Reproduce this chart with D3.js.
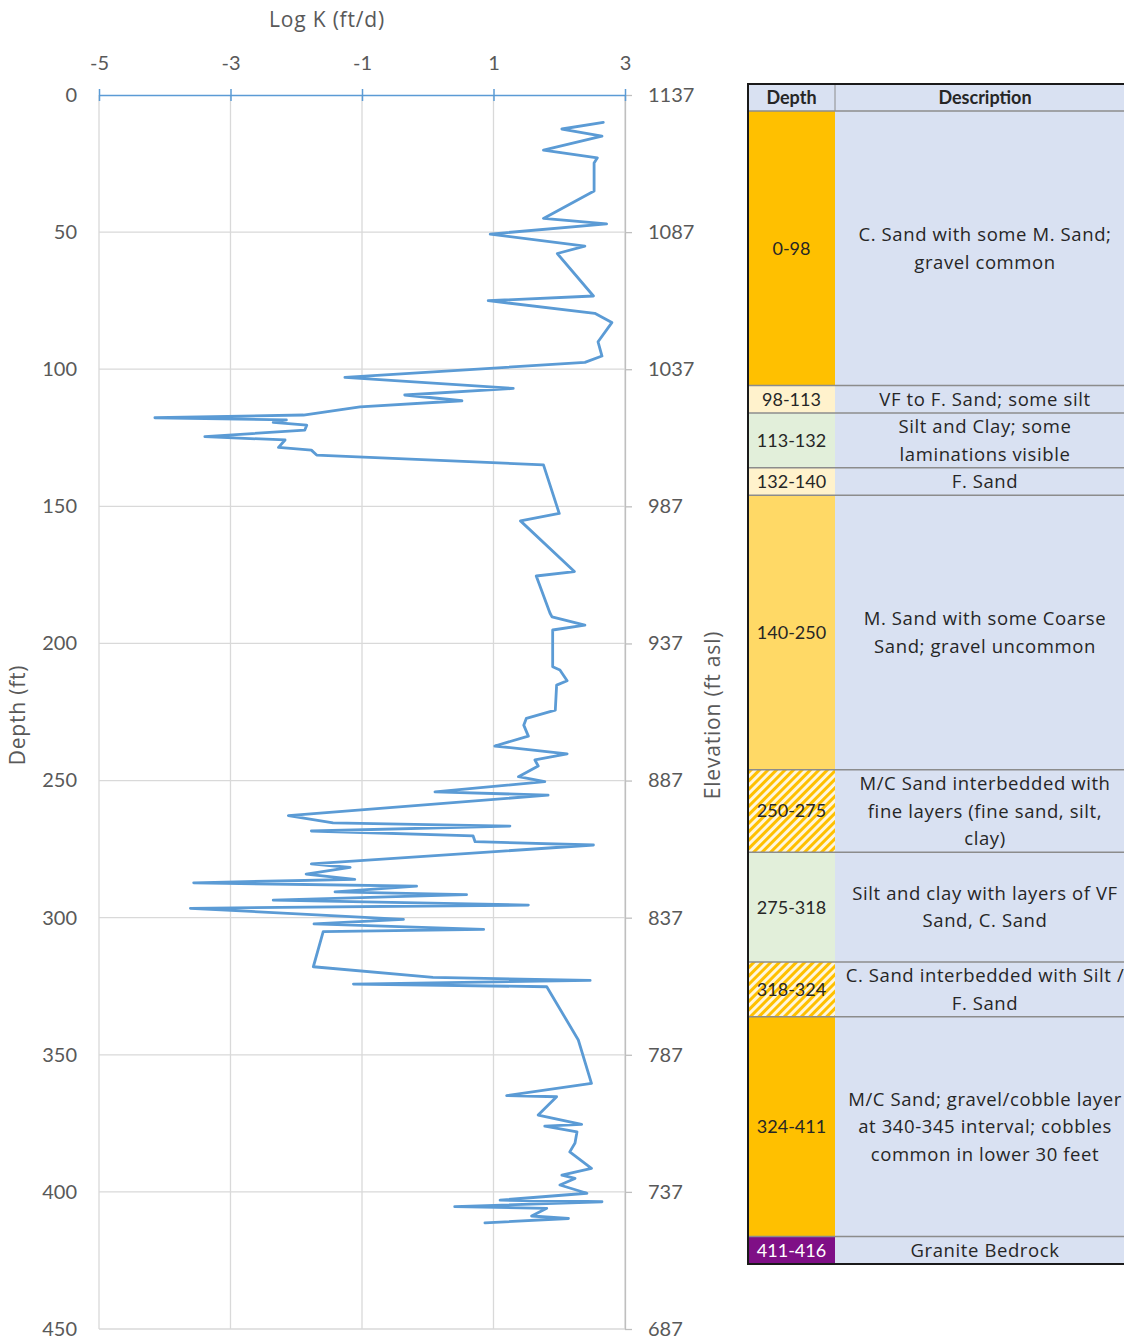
<!DOCTYPE html>
<html>
<head>
<meta charset="utf-8">
<script src="https://cdn.jsdelivr.net/npm/d3@7"></script>
<style>
  body { margin: 0; background: #ffffff; }
  svg { display: block; font-family: Lato, "Open Sans", sans-serif; }
</style>
</head>
<body>
<svg id="chart" width="1124" height="1340"></svg>
<script>
// ---- Hydraulic conductivity profile (log10 K, ft/d) versus depth below ground (ft)
const depthFt = [
  10.0, 12.4, 15.0, 20.1, 22.9, 24.8, 35.0, 45.0, 47.0, 50.7,
  55.1, 57.8, 73.3, 75.0, 79.6, 83.0, 90.0, 95.2, 97.5, 103.0,
  107.0, 109.4, 111.5, 113.7, 116.7, 117.7, 118.5, 119.4, 120.4, 122.2,
  124.6, 125.8, 128.5, 129.5, 131.3, 134.9, 152.6, 155.3, 173.8, 175.4,
  189.0, 190.3, 193.3, 195.1, 208.5, 209.7, 213.6, 215.2, 224.3, 227.3,
  229.8, 233.8, 237.4, 240.3, 242.5, 244.7, 248.6, 250.4, 254.1, 255.3,
  262.8, 265.4, 266.6, 268.4, 270.2, 272.3, 273.5, 280.4, 281.7, 284.1,
  286.0, 287.3, 288.5, 290.6, 291.6, 293.6, 295.4, 296.6, 300.6, 302.3,
  304.3, 305.1, 317.9, 321.8, 322.9, 324.2, 325.2, 344.6, 360.4, 364.9,
  365.3, 372.0, 375.4, 376.0, 378.1, 382.2, 385.4, 391.4, 393.9, 395.1,
  397.5, 400.5, 403.0, 403.6, 405.4, 406.0, 408.8, 409.7, 411.3
];
const logK = [
  2.67, 2.04, 2.65, 1.76, 2.58, 2.53, 2.53, 1.76, 2.72, 0.95,
  2.39, 1.97, 2.52, 0.92, 2.54, 2.80, 2.59, 2.65, 2.39, -1.26,
  1.30, -0.35, 0.52, -1.03, -1.89, -4.15, -2.15, -2.35, -1.84, -1.87,
  -3.39, -2.17, -2.27, -1.77, -1.69, 1.76, 2.00, 1.41, 2.23, 1.65,
  1.86, 1.89, 2.39, 1.90, 1.90, 2.01, 2.12, 1.96, 1.94, 1.50,
  1.46, 1.53, 1.02, 2.12, 1.63, 1.68, 1.38, 1.78, 0.11, 1.83,
  -2.12, -1.44, 1.25, -1.77, 0.69, 0.72, 2.52, -1.77, -1.18, -1.85,
  -1.11, -3.56, -0.17, -1.41, 0.59, -2.35, 1.53, -3.61, -0.37, -1.73,
  0.85, -1.59, -1.74, 0.08, 2.47, -1.13, 1.81, 2.29, 2.49, 1.20,
  1.96, 1.68, 2.34, 1.78, 2.27, 2.24, 2.16, 2.49, 2.04, 2.24,
  2.01, 2.42, 1.10, 2.65, 0.41, 1.81, 1.58, 2.14, 0.87
];

// ---- Axis ticks
const logKTicks = [-5, -3, -1, 1, 3];
const depthTicks = [0, 50, 100, 150, 200, 250, 300, 350, 400, 450];
const groundElevation = 1137;

// ---- Lithologic log
const layerDepths = ["0-98", "98-113", "113-132", "132-140", "140-250",
                     "250-275", "275-318", "318-324", "324-411", "411-416"];
const layerDescriptions = [
  ["C. Sand with some M. Sand;", "gravel common"],
  ["VF to F. Sand; some silt"],
  ["Silt and Clay; some", "laminations visible"],
  ["F. Sand"],
  ["M. Sand with some Coarse", "Sand; gravel uncommon"],
  ["M/C Sand interbedded with", "fine layers (fine sand, silt,", "clay)"],
  ["Silt and clay with layers of VF", "Sand, C. Sand"],
  ["C. Sand interbedded with Silt /", "F. Sand"],
  ["M/C Sand; gravel/cobble layer", "at 340-345 interval; cobbles", "common in lower 30 feet"],
  ["Granite Bedrock"]
];
const layerTypes = ["coarse", "fine", "silt", "fine", "medium",
                    "mixed", "silt", "mixed", "coarse", "bedrock"];
const layerRowCounts = [10, 1, 2, 1, 10, 3, 4, 2, 8, 1];

const svg = d3.select("#chart");
const grey = "#595959";
const titleFont = "'Open Sans', Lato, sans-serif";

const x = d3.scaleLinear().domain([-5, 3]).range([99, 625]);
const y = d3.scaleLinear().domain([0, 450]).range([95, 1329]);
const yElev = d3.scaleLinear()
  .domain([groundElevation, groundElevation - 450]).range([95, 1329]);

// gridlines
const grid = svg.append("g");
grid.selectAll("line.h").data(depthTicks.filter(d => d > 0)).join("line")
  .attr("class", "h")
  .attr("x1", x(-5)).attr("x2", x(3))
  .attr("y1", d => y(d)).attr("y2", d => y(d))
  .attr("stroke", "#d9d9d9").attr("stroke-width", 1.3);
grid.selectAll("line.v").data(logKTicks).join("line")
  .attr("class", "v")
  .attr("x1", d => x(d)).attr("x2", d => x(d))
  .attr("y1", y(0)).attr("y2", y(450))
  .attr("stroke", "#d9d9d9").attr("stroke-width", 1.3);

// left depth axis (labels only)
const leftAxis = svg.append("g")
  .attr("transform", `translate(${x(-5)},0)`)
  .call(d3.axisLeft(y).tickValues(depthTicks).tickSize(0).tickPadding(22));
leftAxis.select(".domain").remove();

// right elevation axis
const rightAxis = svg.append("g")
  .attr("transform", `translate(${x(3)},0)`)
  .call(d3.axisRight(yElev)
    .tickValues(depthTicks.map(d => groundElevation - d))
    .tickSizeInner(7).tickSizeOuter(0).tickPadding(16)
    .tickFormat(d3.format("d")));
rightAxis.select(".domain").attr("stroke", "#bfbfbf").attr("stroke-width", 1.3);
rightAxis.selectAll(".tick line").attr("stroke", "#bfbfbf").attr("stroke-width", 1.3);

// top log K axis
const topAxis = svg.append("g")
  .attr("transform", `translate(0,${y(0)})`)
  .call(d3.axisTop(x).tickValues(logKTicks).tickSizeInner(0).tickSizeOuter(0)
    .tickPadding(25).tickFormat(d => String(d)));
topAxis.select(".domain").attr("stroke", "#5b9bd5").attr("stroke-width", 1.5);
topAxis.selectAll(".tick line")
  .attr("y1", -6).attr("y2", 6)
  .attr("stroke", "#5b9bd5").attr("stroke-width", 1.5);

[leftAxis, rightAxis, topAxis].forEach(g => {
  g.attr("font-family", null).attr("font-size", null);
  g.selectAll("text").attr("fill", grey).style("font-size", "20px")
    .style("font-family", "Lato, 'Open Sans', sans-serif");
});

// axis titles
const titleStyle = sel => sel
  .attr("text-anchor", "middle").attr("fill", grey)
  .style("font-size", "21px").style("font-family", titleFont)
  .style("letter-spacing", "0.8px");
svg.append("text")
  .attr("x", 327).attr("y", 27)
  .call(titleStyle)
  .text("Log K (ft/d)");
svg.append("text")
  .attr("transform", "translate(18,715) rotate(-90)")
  .attr("dy", "0.35em")
  .call(titleStyle)
  .text("Depth (ft)");
svg.append("text")
  .attr("transform", "translate(713,715) rotate(-90)")
  .attr("dy", "0.35em")
  .call(titleStyle)
  .text("Elevation (ft asl)");

// conductivity profile
const profile = depthFt.map((d, i) => ({ depth: d, k: logK[i] }));
svg.append("path")
  .datum(profile)
  .attr("fill", "none")
  .attr("stroke", "#5b9bd5")
  .attr("stroke-width", 2.8)
  .attr("stroke-linejoin", "round")
  .attr("stroke-linecap", "round")
  .attr("d", d3.line().x(p => x(p.k)).y(p => y(p.depth)));

// ---- lithology table
const defs = svg.append("defs");
const hatch = defs.append("pattern")
  .attr("id", "hatch-mixed")
  .attr("patternUnits", "userSpaceOnUse")
  .attr("width", 6).attr("height", 6)
  .attr("patternTransform", "rotate(45)");
hatch.append("rect").attr("width", 6).attr("height", 6).attr("fill", "#fff6dc");
hatch.append("rect").attr("width", 3).attr("height", 6).attr("fill", "#ffc000");

const fillFor = {
  coarse: "#ffc000",
  fine: "#fff2cc",
  silt: "#e2efda",
  medium: "#ffd966",
  mixed: "url(#hatch-mixed)",
  bedrock: "#7f0f86"
};

const tblLeft = 748, tblSplit = 835, tblRight = 1136;
const tblTop = 84, headerH = 27, rowUnit = 27.45;
const descBg = "#d9e1f2";
const ink = "#262626";

const tbl = svg.append("g").style("font-size", "18px");

// header
tbl.append("rect")
  .attr("x", tblLeft).attr("y", tblTop)
  .attr("width", tblRight - tblLeft).attr("height", headerH)
  .attr("fill", descBg);
tbl.append("text").attr("x", (tblLeft + tblSplit) / 2).attr("y", tblTop + headerH / 2)
  .attr("dy", "0.36em").attr("text-anchor", "middle").attr("fill", ink)
  .attr("font-weight", "bold").text("Depth");
tbl.append("text").attr("x", 985).attr("y", tblTop + headerH / 2)
  .attr("dy", "0.36em").attr("text-anchor", "middle").attr("fill", ink)
  .attr("font-weight", "bold").text("Description");

// body rows
let rowTop = tblTop + headerH;
const rows = layerDepths.map((label, i) => {
  const h = layerRowCounts[i] * rowUnit;
  const r = { label, lines: layerDescriptions[i], type: layerTypes[i], top: rowTop, h };
  rowTop += h;
  return r;
});
const tblBottom = rowTop;

const rowG = tbl.selectAll("g.row").data(rows).join("g").attr("class", "row");
rowG.append("rect")
  .attr("x", tblSplit).attr("y", r => r.top)
  .attr("width", tblRight - tblSplit).attr("height", r => r.h)
  .attr("fill", descBg);
rowG.append("rect")
  .attr("x", tblLeft).attr("y", r => r.top)
  .attr("width", tblSplit - tblLeft).attr("height", r => r.h)
  .attr("fill", r => fillFor[r.type]);
rowG.append("text")
  .attr("x", (tblLeft + tblSplit) / 2)
  .attr("y", r => r.top + r.h / 2)
  .attr("dy", "0.36em").attr("text-anchor", "middle")
  .attr("fill", r => r.type === "bedrock" ? "#ffffff" : ink)
  .text(r => r.label);
rowG.each(function (r) {
  const g = d3.select(this);
  const n = r.lines.length;
  g.selectAll("text.desc").data(r.lines).join("text")
    .attr("class", "desc")
    .attr("x", 985)
    .attr("y", (t, j) => r.top + r.h / 2 + (j - (n - 1) / 2) * 27.5)
    .attr("dy", "0.36em").attr("text-anchor", "middle").attr("fill", ink)
    .style("font-family", "'Open Sans', Lato, sans-serif")
    .style("font-size", "18.5px")
    .style("letter-spacing", "0.6px")
    .text(t => t);
});

// grid lines of the table
tbl.selectAll("line.sep").data(rows.map(r => r.top)).join("line")
  .attr("class", "sep")
  .attr("x1", tblLeft).attr("x2", tblRight)
  .attr("y1", d => d).attr("y2", d => d)
  .attr("stroke", "#8c8c8c").attr("stroke-width", 1.5);
tbl.append("line")
  .attr("x1", tblSplit).attr("x2", tblSplit)
  .attr("y1", tblTop).attr("y2", tblTop + headerH)
  .attr("stroke", "#8c8c8c").attr("stroke-width", 1);

// outer frame
tbl.append("path")
  .attr("d", `M${tblRight},${tblTop} H${tblLeft} V${tblBottom} H${tblRight}`)
  .attr("fill", "none").attr("stroke", "#1a1a1a").attr("stroke-width", 2);
</script>
</body>
</html>
